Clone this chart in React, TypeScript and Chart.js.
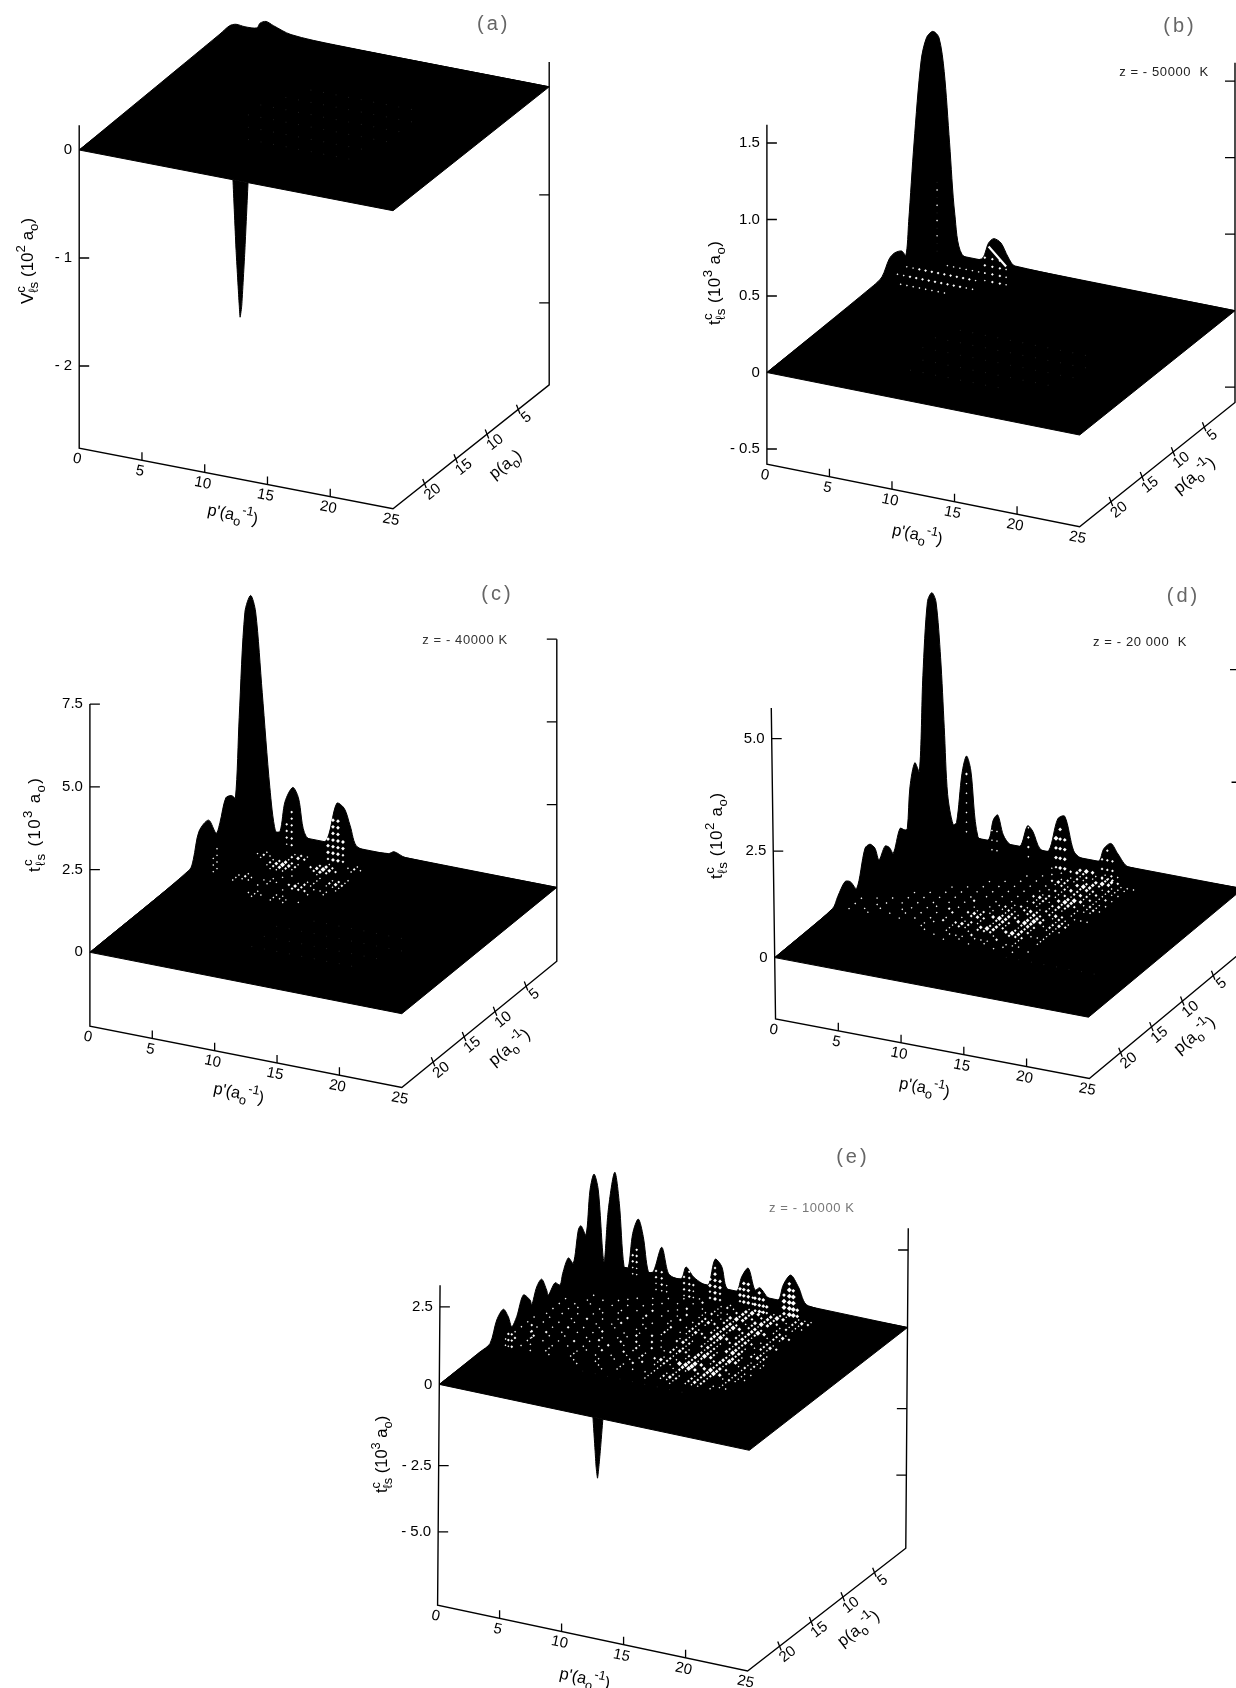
import { useEffect, useRef } from 'react';
import { Chart, registerables } from 'chart.js';

Chart.register(...registerables);

// ---- Values ----
const primeTicks = [0, 5, 10, 15, 20, 25];
const pTicks = [5, 10, 15, 20];

// Back contour: s < 0 runs along the p' = 0 edge (p = -s), s > 0 along the p = 0 edge (p' = s)
const aRidgeS = [-25, -2.46, -0.93, 0.05, 0.76, 1.72, 1.96, 2.44, 3.04, 4.43, 8, 25];
const aRidgeZ = [0, 0.04, 0.046, 0.018, 0.011, 0.022, 0.071, 0.098, 0.072, 0.021, 0.004, 0];
const bRidgeS = [-25, -7.88, -6.48, -5.32, -4.47, -3.33, -2.64, -2.19, -1.33, -0.19, 0.34, 0.84, 1.33, 1.75, 2.18, 2.6, 3.17, 4.73, 5.3, 5.72, 6.29, 6.86, 7.42, 25];
const bRidgeZ = [0, 0.011, 0.024, 0.103, 0.114, 0.09, 0.039, 0.246, 0.731, 1.232, 1.382, 1.431, 1.399, 1.184, 0.724, 0.264, 0.012, 0.007, 0.121, 0.156, 0.137, 0.054, 0.005, 0];
const cRidgeS = [-25, -8.95, -8.32, -7.4, -5.85, -4.63, -4.02, -3.08, -2.16, -1.53, -0.92, 0, 0.46, 0.86, 1.39, 2, 2.45, 2.82, 3.22, 3.84, 4.29, 4.91, 6.44, 7.36, 7.97, 8.44, 9.05, 11.5, 11.96, 12.88, 25];
const cRidgeZ = [0, 0.04, 0.26, 0.97, 1.07, 0.49, 0.72, 1.32, 1.25, 1.08, 3.42, 6.46, 7.0, 6.53, 4.13, 1.31, 0.02, 0.05, 0.98, 1.45, 1.17, 0.05, 0, 1.23, 1.12, 0.63, 0.03, 0.02, 0.11, 0, 0];
const dRidgeS = [-25, -15.65, -14.79, -13.62, -12.78, -11.73, -10.39, -9.58, -8.77, -8.12, -7.15, -6.46, -5.81, -4.72, -3.92, -3.54, -3.11, -2.33, -1.59, -1.02, -0.28, 0.21, 0.54, 0.91, 1.2, 1.47, 1.9, 2.18, 2.61, 2.97, 3.31, 3.88, 4.71, 5.11, 5.46, 5.9, 6.44, 7.24, 7.83, 8.25, 8.83, 9.53, 10.24, 10.8, 11.51, 12.07, 13.48, 13.91, 14.48, 15.04, 15.89, 25];
const dRidgeZ = [0, 0.02, 0.2, 0.4, 0.3, 0.02, 0.78, 0.78, 0.59, 0.25, 0.45, 0.34, 0.13, 0.57, 0.44, 0.43, 1.33, 1.79, 1.5, 3.63, 5.23, 5.41, 5.22, 3.96, 2.38, 0.87, 0.21, 0.27, 1.41, 1.83, 1.53, 0.04, 0.01, 0.49, 0.62, 0.19, 0, 0, 0.5, 0.4, 0.03, 0.03, 0.79, 0.88, 0.13, 0, 0, 0.31, 0.46, 0.25, 0, 0];
const eRidgeS = [-25, -18.56, -16.98, -15.92, -14.88, -14.09, -13.55, -12.76, -11.72, -10.66, -10.39, -9.6, -8.82, -8.03, -7.77, -6.71, -5.92, -5.5, -4.61, -3.82, -3.03, -2.61, -1.82, -1.18, -0.55, 0.06, 0.52, 0.87, 1.39, 1.76, 2.14, 2.48, 2.84, 3.29, 3.69, 4.1, 4.5, 5.18, 5.71, 6.25, 6.79, 7.14, 7.73, 8.4, 8.94, 9.48, 10.02, 10.42, 11.23, 11.63, 12.16, 12.7, 13.1, 13.77, 14.58, 14.98, 15.58, 16.19, 16.99, 25];
const eRidgeZ = [0, 0.03, 0.05, 0.64, 0.82, 0.45, 0.05, 0.25, 0.78, 0.45, 0.25, 0.71, 0.83, 0.35, 0.15, 0.38, 0.18, 0.49, 0.85, 0.55, 1.5, 1.57, 1.15, 2.5, 2.91, 2.32, 0.04, 1.74, 3.0, 2.03, 0.02, 0.02, 1.15, 1.65, 1.12, 0.02, 0.06, 0.9, 0.11, 0, 0.04, 0.43, 0.17, 0.02, 0, 0.88, 0.69, 0.03, 0, 0.5, 0.82, 0.16, 0.27, 0, 0, 0.52, 0.89, 0.57, 0.02, 0];

// Downward spikes, seen against the front edge
const aSpikePrime = [12.25, 12.5, 12.75, 12.82, 12.95, 13.2, 13.45];
const aSpikeZ = [0, -0.65, -1.15, -1.26, -1.15, -0.63, 0];
const eSpikePrime = [12.39, 12.56, 12.65, 12.76, 12.86, 12.99, 13.19];
const eSpikeZ = [0, -1.05, -1.6, -1.94, -1.6, -1.02, 0];

// White gap on the second ridge of panel b
const bGapS = [5.3, 6.7];
const bGapZ = [0.098, -0.01];

// Mesh openings on the surface: [p, first p', one character per half unit of p']
const aOpenings: [number, number, string][] = [
  [18, 10, 'f.f.f.f.f.f.f.f.f'], [16, 9, 'f.f.f.f.f.f.f.f.f.f'], [14, 8, 'f.f.f.f.f.f.f.f.f.f.f.f'],
  [12, 8, 'f.f.f.f.f.f.f.f.f.f.f.f'], [10, 9, 'f.f.f.f.f.f.f.f.f.f.f'], [8, 10, 'f.f.f.f.f.f.f.f.f'],
];
const bOpenings: [number, number, string][] = [
  [6.5, 0.5, '..11111111..'], [5, 0.5, '1122222222211'], [3.5, 0.5, '112222222221'], [2, 3, '1111111'],
  [20, 9, 'f.f.f.f.f.f.f.f'], [18, 9, 'f.f.f.f.f.f.f.f.f.f.f'], [16, 8, 'f.f.f.f.f.f.f.f.f.f.f.f.f'],
  [14, 8, 'f.f.f.f.f.f.f.f.f.f.f.f.f'], [12, 9, 'f.f.f.f.f.f.f.f.f.f.f'],
];
const cOpenings: [number, number, string][] = [
  [11, 2, '........1..1.1......'], [10.5, 2, '.......111.111.1....'], [10, 2, '........1..11.......'],
  [9, 2, '...1...1...1...1....'], [8.5, 2, '...111..1...222..1..'], [8, 2, '...121.111.232.111..'],
  [7.5, 2, '....1...1...121...1.'], [7, 2, '.........1...11.111.'], [6.5, 2, '..........1...1.232.'],
  [6, 2, '......111.....1.121.'], [5.5, 2, '.....12321...1....1.'], [5, 2, '.....23432..232.....'],
  [4.5, 2, '...1.12321.23432....'], [4, 2, '..121..1....232..1..'], [3.5, 2, '...1...232...1..121.'],
  [3, 2, '.......121.......1..'],
  [19, 10, 'f.f.f.f.f.f.f.f.f'], [17, 10, 'f.f.f.f.f.f.f.f.f.f'], [15, 10, 'f.f.f.f.f.f.f.f.f.f.f'], [13, 12, 'f.f.f.f.f.f.f.f'],
];
const dOpenings: [number, number, string][] = [
  [18, 15, 'f.f.f.f.f.f.f.f'], [17, 0.5, '..................1...1...1..1........'],
  [16.5, 0.5, '................1...1...1..1...1......'], [16, 0.5, '..............1...111.111..111........'],
  [15.5, 0.5, '.............1...1...2...2..1.........'], [15, 0.5, '.1..1....1...1...1..1...1...1..1.......'],
  [14.5, 0.5, '...1...1...1..1..121.222..222..1......'], [14, 0.5, '.1...1...1...1.2.232.343.343.111......'],
  [13.5, 0.5, '....1...1..1...1..121.232.232..1......'], [13, 0.5, '.1...1...1...1...1..1.121.121..1......'],
  [12.5, 0.5, '...1...1...1...2..232.232.232.111.....'], [12, 0.5, '.....1...1..1.2..232.343.343.121......'],
  [11.5, 0.5, '.......1...1...1..121.232.343.232.....'], [11, 0.5, '.........1...1...1..1.121.232.121.....'],
  [10.5, 0.5, '.......1...1...1...1.121.232.121......'], [10, 0.5, '.........1...1..2...121.232.232.111...'],
  [9.5, 0.5, '...........1...1...1..121.121..1......'], [9, 0.5, '.............1...1...1...1.121.1.......'],
  [8.5, 0.5, '...........1...1...1...121.232.111....'], [8, 0.5, '.............1...1...1..121.232.121...'],
  [7.5, 0.5, '...............1...1...232.343.121....'], [7, 0.5, '.................1...1..121.343.111...'],
  [6.5, 0.5, '...............1...1...1..121.121.....'], [6, 0.5, '.................1...1..121.232.121...'],
  [5.5, 0.5, '...................1...1..232.121.....'], [5, 0.5, '.....................1..121.232.111...'],
  [4.5, 0.5, '...................1...232.343.121....'], [4, 0.5, '.....................1..121.232.111...'],
  [3.5, 0.5, '......................1..121.343.111..'], [3, 0.5, '.......................1..121.232.....'],
  [2.5, 0.5, '.....................1..232.121.......'], [2, 0.5, '.........................343.121......'],
];
const eOpenings: [number, number, string][] = [
  [18, 8, 'f.f.f.f.f.f.f.f.f'], [17, 0.5, '.............1...1......1...1.......'],
  [16.5, 0.5, '.1...1..1...1...1..1....1.111.111.1...'], [16, 0.5, '...1...1...1...1...1.1.11.232.232.111.'],
  [15.5, 0.5, '1...1..1...1...1...1....1.121.222..1..'], [15, 0.5, '.2.1...1...1..1..1..2...1..1..121..1..'],
  [14.5, 0.5, '...1.1...1..1...1..1.2.11.121.232.121.'], [14, 0.5, '1..2...1...1..2...1.1..121.343.343.111'],
  [13.5, 0.5, '..1..1...2...1...2..2.232.444.343.121.'], [13, 0.5, '1...2..1...1..2...1.1..121.343.232.111'],
  [12.5, 0.5, '..1...1...1.2...1.2.....1.121.121..1..'], [12, 0.5, '1...1...1...1..2..1.2.121.232.232.121.'],
  [11.5, 0.5, '..1...2...1...1..2...1.232.343.343.121'], [11, 0.5, '1...1...1..2...1...2...121.232.232.111'],
  [10.5, 0.5, '..1...1...1...1.2...1...1..121.121..1.'], [10, 0.5, '.1...1...1..1...1.2...232.232.343.232.'],
  [9.5, 0.5, '...1...2...1...1...1..121.121.232.121.'], [9, 0.5, '.1...1...1..2...1..2...1..121.121..1..'],
  [8.5, 0.5, '...1...1...1...1...1.111.232.232.121.'], [8, 0.5, '.1..1...1...2...1..2..232.343.232.232.'],
  [7.5, 0.5, '...1...1..1...1...1..121.232.232.121.'], [7, 0.5, '.1...1....1...2...1...1..121.121..1...'],
  [6.5, 0.5, '....1...1...1...1..2.121.232.232.121.'], [6, 0.5, '......1...1...2...1...232.343.343.232.'],
  [5.5, 0.5, '....1...1...1...1..2.121.232.232.121.'], [5, 0.5, '.........1...1...1...1..121.121..1....'],
  [4.5, 0.5, '..........1...1...2..121.343.343.121.'], [4, 0.5, '............1...1...1.111.232.232.111.'],
  [3.5, 0.5, '..............1...1...1..232.232.121.'], [3, 0.5, '................1..2..121.343.343.232.'],
  [2.5, 0.5, '..................1....1..121.121.111.'],
];

// Mesh openings on peak faces: [s, lowest z, one character per step of z, going up]
const bFaces: [number, number, string][] = [
  [5, -0.13, '1122'], [5.6, -0.13, '2222'], [6.2, -0.13, '2222'], [6.7, -0.13, '111'],
  [1.18, 0, 'ff1f1f1f1f'],
];
const cFaces: [number, number, string][] = [
  [6.66, -0.5, '2333'], [7.06, -0.5, '3333333'], [7.46, -0.5, '3333333'], [7.86, -0.5, '2233'],
  [3.35, -0.3, '1222'], [3.75, -0.3, '222222'], [-5.1, -0.6, '111'], [-4.5, -0.6, '1111'],
];
const dFaces: [number, number, string][] = [
  [10.1, -0.32, '2334'], [10.43, -0.32, '33333'], [10.8, -0.32, '3333'],
  [13.77, -0.38, '222'], [14.19, -0.38, '2222'], [14.6, -0.38, '222'],
  [7.9, -0.2, '1221'], [5.0, -0.2, '111'], [5.4, -0.2, '111'], [2.97, 0.1, '1111112'],
];
const eFaces: [number, number, string][] = [
  [15.04, -0.4, '3443'], [15.47, -0.4, '444443'], [15.79, -0.4, '44443'], [16.11, -0.4, '33'],
  [11.49, -0.3, '233'], [11.8, -0.3, '3333'], [12.16, -0.3, '3333'], [12.52, -0.3, '22'],
  [12.7, -0.5, '233'], [13.05, -0.5, '3333'], [13.37, -0.5, '333'], [13.65, -0.5, '23'],
  [9.07, -0.4, '2233'], [9.48, -0.4, '333332'], [9.88, -0.4, '2233'],
  [6.98, -0.5, '1222'], [7.4, -0.5, '22222'], [7.73, -0.5, '112'],
  [4.72, -0.5, '1122'], [5.18, -0.5, '1222'], [5.58, -0.5, '11'],
  [2.84, -0.15, '1122'], [3.16, -0.15, '11222'],
  [-14.09, -0.5, '122'], [-13.55, -0.6, '222'], [-10.39, -0.8, '122'],
];

// Height axes
const aZTicks = [-1, -2];
const aZLabels = ['- 1', '- 2'];
const bZTicks = [1.5, 1, 0.5, -0.5];
const bZLabels = ['1.5', '1.0', '0.5', '- 0.5'];
const cZTicks = [7.5, 5, 2.5];
const cZLabels = ['7.5', '5.0', '2.5'];
const dZTicks = [5, 2.43];
const dZLabels = ['5.0', '2.5'];
const eZTicks = [2.5, -2.62, -4.76];
const eZLabels = ['2.5', '- 2.5', '- 5.0'];

// Text with superscripts and subscripts: [text, kind]
type Run = [string, string];
const aZTitle: Run[] = [['V', ''], ['c', '^!'], ['ℓs', '_'], [' (10', ''], ['2', '^'], [' a', ''], ['o', '_'], [')', '']];
const bZTitle: Run[] = [['t', ''], ['c', '^!'], ['ℓs', '_'], [' (10', ''], ['3', '^'], [' a', ''], ['o', '_'], [')', '']];
const dZTitle: Run[] = [['t', ''], ['c', '^!'], ['ℓs', '_'], [' (10', ''], ['2', '^'], [' a', ''], ['o', '_'], [')', '']];
const primeTitle: Run[] = [["p'(a", ''], ['o', '_'], ['-1', '^'], [')', '']];
const pInverseTitle: Run[] = [['p(a', ''], ['o', '_'], ['-1', '^'], [')', '']];
const pPlainTitle: Run[] = [['p(a', ''], ['o', '_'], [')', '']];

// ---- Layout of each panel (page pixels) ----
type XY = [number, number];
interface PanelDef {
  box: [number, number, number, number];
  left: XY; front: XY; right: XY; // the corners of the z = 0 sheet
  k: number; zMin: number; zTop: number; lean: number;
  ridgeS: number[]; ridgeZ: number[];
  spikePrime?: number[]; spikeZ?: number[];
  gapS?: number[]; gapZ?: number[];
  openings: [number, number, string][];
  faces: [number, number, string][]; faceStep: number;
  zTicks: number[]; zLabels: string[];
  zTitle: Run[]; zTitleAt: XY; zTitleSize: number; zTitleGap: number;
  primeTitleAt: XY; pTitle: Run[]; pTitleAt: XY;
  name: string; nameAt: XY;
  temp?: string; tempAt?: XY; tempColor?: string;
}

const PANELS: PanelDef[] = [
  {
    box: [0, 0, 600, 560], left: [79.2, 150], front: [393, 210.7], right: [549.2, 86.8],
    k: 108, zMin: -2.76, zTop: 0.23, lean: 0, ridgeS: aRidgeS, ridgeZ: aRidgeZ,
    spikePrime: aSpikePrime, spikeZ: aSpikeZ, openings: aOpenings, faces: [], faceStep: 0.1,
    zTicks: aZTicks, zLabels: aZLabels, zTitle: aZTitle, zTitleAt: [33, 304], zTitleSize: 17, zTitleGap: 0,
    primeTitleAt: [233, 514], pTitle: pPlainTitle, pTitleAt: [505, 464],
    name: '(a)', nameAt: [493.7, 24.3],
  },
  {
    box: [690, 0, 546, 560], left: [766.9, 372.5], front: [1079.6, 435], right: [1235, 310.7],
    k: 153, zMin: -0.6, zTop: 1.62, lean: 0, ridgeS: bRidgeS, ridgeZ: bRidgeZ,
    gapS: bGapS, gapZ: bGapZ, openings: bOpenings, faces: bFaces, faceStep: 0.05,
    zTicks: bZTicks, zLabels: bZLabels, zTitle: bZTitle, zTitleAt: [720, 325], zTitleSize: 17, zTitleGap: 0.4,
    primeTitleAt: [917.6, 534], pTitle: pInverseTitle, pTitleAt: [1194, 475],
    name: '(b)', nameAt: [1180, 26.8], temp: 'z = - 50000  K', tempAt: [1164, 72.5], tempColor: '#222',
  },
  {
    box: [0, 565, 600, 565], left: [89.9, 952.3], front: [401.8, 1013.7], right: [556.8, 887.4],
    k: 33.1, zMin: -2.23, zTop: 7.5, lean: 0, ridgeS: cRidgeS, ridgeZ: cRidgeZ,
    openings: cOpenings, faces: cFaces, faceStep: 0.2,
    zTicks: cZTicks, zLabels: cZLabels, zTitle: bZTitle, zTitleAt: [40, 872], zTitleSize: 17, zTitleGap: 1.3,
    primeTitleAt: [239, 1092.6], pTitle: pInverseTitle, pTitleAt: [509, 1047],
    name: '(c)', nameAt: [497.5, 594.6], temp: 'z = - 40000 K', tempAt: [465, 640], tempColor: '#333',
  },
  {
    box: [690, 565, 546, 565], left: [774.7, 957.6], front: [1088.5, 1017.2], right: [1243, 888.7],
    k: 43.8, zMin: -1.4, zTop: 5.7, lean: -0.6, ridgeS: dRidgeS, ridgeZ: dRidgeZ,
    openings: dOpenings, faces: dFaces, faceStep: 0.22,
    zTicks: dZTicks, zLabels: dZLabels, zTitle: dZTitle, zTitleAt: [722, 879], zTitleSize: 17, zTitleGap: 0.6,
    primeTitleAt: [924.7, 1087], pTitle: pInverseTitle, pTitleAt: [1194, 1034.7],
    name: '(d)', nameAt: [1183.5, 596.3], temp: 'z = - 20 000  K', tempAt: [1140, 642], tempColor: '#222',
  },
  {
    box: [360, 1135, 560, 553], left: [439.3, 1384.4], front: [749.3, 1450.3], right: [907.5, 1327.5],
    k: 31, zMin: -7.12, zTop: 3.2, lean: 0.24, ridgeS: eRidgeS, ridgeZ: eRidgeZ,
    spikePrime: eSpikePrime, spikeZ: eSpikeZ, openings: eOpenings, faces: eFaces, faceStep: 0.2,
    zTicks: eZTicks, zLabels: eZLabels, zTitle: bZTitle, zTitleAt: [387, 1493], zTitleSize: 16.5, zTitleGap: 0,
    primeTitleAt: [585, 1678], pTitle: pInverseTitle, pTitleAt: [858, 1628],
    name: '(e)', nameAt: [852.9, 1157.8], temp: 'z = - 10000 K', tempAt: [811.8, 1208.3], tempColor: '#777',
  },
];

const FONT = '"Liberation Sans", "DejaVu Sans", sans-serif';
const OPENING_SIZE: Record<string, number> = { f: 0.6, '1': 0.95, '2': 1.4, '3': 1.9, '4': 2.5 };

function drawRuns(ctx: CanvasRenderingContext2D, runs: Run[], size: number, x: number, y: number, angle: number, center: boolean, gap = 0) {
  const fontOf = (kind: string) => `${kind ? size * 0.78 : size}px ${FONT}`;
  ctx.save();
  (ctx as any).letterSpacing = `${gap}px`;
  let width = 0;
  for (const [text, kind] of runs) {
    if (kind === '^!') continue;
    ctx.font = fontOf(kind);
    width += ctx.measureText(text).width;
  }
  ctx.translate(x, y);
  ctx.rotate(angle);
  ctx.textAlign = 'left';
  ctx.textBaseline = 'alphabetic';
  ctx.fillStyle = '#000';
  let pen = center ? -width / 2 : 0;
  const base = center ? size * 0.35 : 0;
  for (const [text, kind] of runs) {
    ctx.font = fontOf(kind);
    const lift = kind[0] === '^' ? -size * 0.45 : kind === '_' ? size * 0.3 : 0;
    ctx.fillText(text, pen, base + lift);
    if (kind !== '^!') pen += ctx.measureText(text).width;
  }
  ctx.restore();
}

function buildConfig(d: PanelDef): any {
  const [bx, by, bw, bh] = d.box;
  const u: XY = [(d.front[0] - d.left[0]) / 25, (d.front[1] - d.left[1]) / 25];
  const v: XY = [(d.right[0] - d.front[0]) / 25, (d.right[1] - d.front[1]) / 25];
  const at = (prime: number, p: number, z: number, lean = 0) => ({
    x: d.left[0] + prime * u[0] + (25 - p) * v[0] + lean * z - bx,
    y: d.left[1] + prime * u[1] + (25 - p) * v[1] - z * d.k - by,
  });
  const onEdge = (s: number, z: number) => (s < 0 ? at(0, -s, z) : at(s, 0, z));
  const shift = (pt: { x: number; y: number }, dx: number, dy: number) => ({ x: pt.x + dx, y: pt.y + dy });
  const gap = { x: NaN, y: NaN };

  const axisLine = [
    at(0, 25, d.zTop, d.lean), at(0, 25, d.zMin, d.lean), at(25, 25, d.zMin, d.lean),
    at(25, 0, d.zMin, d.lean), at(25, 0, d.zTop, d.lean),
  ];
  const tickLines: { x: number; y: number }[] = [];
  for (const z of d.zTicks) {
    const l = at(0, 25, z, d.lean);
    const r = at(25, 0, z, d.lean);
    tickLines.push(l, shift(l, 10, 0), gap, r, shift(r, -10, 0), gap);
  }
  for (const t of primeTicks.slice(1, -1)) {
    const a = at(t, 25, d.zMin, d.lean);
    tickLines.push(a, shift(a, 0, -8), gap);
  }
  for (const t of pTicks) {
    const a = at(25, t, d.zMin, d.lean);
    tickLines.push(shift(a, -1.5, -5), shift(a, 2, 4), gap);
  }

  const openingPts: { x: number; y: number }[] = [];
  const openingR: number[] = [];
  const openingC: string[] = [];
  const pushOpening = (pt: { x: number; y: number }, ch: string) => {
    if (!(ch in OPENING_SIZE)) return;
    openingPts.push(pt);
    openingR.push(OPENING_SIZE[ch]);
    openingC.push(ch === 'f' ? 'rgba(255,255,255,0.16)' : '#fff');
  };
  for (const [p, first, cells] of d.openings) {
    [...cells].forEach((ch, i) => pushOpening(at(first + i / 2, p, 0), ch));
  }
  for (const [s, z0, cells] of d.faces) {
    [...cells].forEach((ch, i) => pushOpening(onEdge(s, z0 + i * d.faceStep), ch));
  }

  const solid = { showLine: true, pointRadius: 0, borderColor: '#000', backgroundColor: '#000', clip: false };
  const datasets: any[] = [
    {
      label: 'mesh openings', data: openingPts, showLine: false, pointStyle: 'rectRot',
      pointRadius: openingR, pointBackgroundColor: openingC, pointBorderWidth: 0, clip: false, order: 0,
    },
  ];
  if (d.gapS && d.gapZ) {
    datasets.push({
      ...solid, label: 'gap', data: d.gapS.map((s, i) => onEdge(s, d.gapZ![i])),
      borderColor: '#fff', borderWidth: 2.2, order: 0,
    });
  }
  datasets.push({
    ...solid, label: 'ridge', data: d.ridgeS.map((s, i) => onEdge(s, d.ridgeZ[i])),
    borderWidth: 1, fill: 'shape', tension: 0.3, order: 1,
  });
  if (d.spikePrime && d.spikeZ) {
    datasets.push({
      ...solid, label: 'spike', data: d.spikePrime.map((t, i) => at(t, 25, d.spikeZ![i])),
      borderWidth: 1, fill: 'shape', tension: 0.15, order: 2,
    });
  }
  datasets.push({
    ...solid, label: 'surface', data: [at(0, 25, 0), at(25, 25, 0), at(25, 0, 0), at(0, 0, 0), at(0, 25, 0)],
    borderWidth: 1, fill: 'shape', order: 3,
  });
  datasets.push({ ...solid, label: 'axes', data: axisLine, borderWidth: 1.4, order: 4 });
  datasets.push({ ...solid, label: 'ticks', data: tickLines, borderWidth: 1.3, order: 4 });

  const primeAngle = Math.atan2(u[1], u[0]);
  const pAngle = Math.atan2(v[1], v[0]);

  const labels = {
    id: 'panelText',
    afterDatasetsDraw(chart: any) {
      const ctx: CanvasRenderingContext2D = chart.ctx;
      const tickFont = `15px ${FONT}`;
      const text = (s: string, x: number, y: number, angle: number, align: CanvasTextAlign) => {
        ctx.save();
        ctx.translate(x, y);
        ctx.rotate(angle);
        ctx.font = tickFont;
        ctx.fillStyle = '#000';
        ctx.textAlign = align;
        ctx.textBaseline = 'middle';
        ctx.fillText(s, 0, 0);
        ctx.restore();
      };
      const zero = at(0, 25, 0, d.lean);
      text('0', zero.x - 7, zero.y, 0, 'right');
      d.zTicks.forEach((z, i) => {
        const a = at(0, 25, z, d.lean);
        text(d.zLabels[i], a.x - 7, a.y, 0, 'right');
      });
      for (const t of primeTicks) {
        const a = at(t, 25, d.zMin, d.lean);
        text(String(t), a.x - 2, a.y + 11, primeAngle, 'center');
      }
      for (const t of pTicks) {
        const a = at(25, t, d.zMin, d.lean);
        text(String(t), a.x + 8.5, a.y + 8, pAngle, 'center');
      }
      drawRuns(ctx, d.zTitle, d.zTitleSize, d.zTitleAt[0] - bx, d.zTitleAt[1] - by, -Math.PI / 2, false, d.zTitleGap);
      drawRuns(ctx, primeTitle, 16.5, d.primeTitleAt[0] - bx, d.primeTitleAt[1] - by, primeAngle, true);
      drawRuns(ctx, d.pTitle, 16.5, d.pTitleAt[0] - bx, d.pTitleAt[1] - by, pAngle, true);

      ctx.save();
      ctx.font = `20px ${FONT}`;
      ctx.fillStyle = '#666';
      ctx.textAlign = 'center';
      ctx.textBaseline = 'middle';
      (ctx as any).letterSpacing = '3px';
      ctx.fillText(d.name, d.nameAt[0] - bx, d.nameAt[1] - by);
      if (d.temp && d.tempAt) {
        ctx.font = `13px ${FONT}`;
        ctx.fillStyle = d.tempColor || '#222';
        (ctx as any).letterSpacing = '0.6px';
        ctx.fillText(d.temp, d.tempAt[0] - bx, d.tempAt[1] - by);
      }
      ctx.restore();
    },
  };

  return {
    type: 'scatter',
    data: { datasets },
    plugins: [labels],
    options: {
      animation: false,
      responsive: false,
      devicePixelRatio: 1,
      layout: { padding: 0, autoPadding: false },
      events: [],
      plugins: { legend: { display: false }, tooltip: { enabled: false }, title: { display: false } },
      scales: {
        x: { type: 'linear', min: 0, max: bw, display: false },
        y: { type: 'linear', min: 0, max: bh, reverse: true, display: false },
      },
    },
  };
}

function Panel({ def }: { def: PanelDef }) {
  const ref = useRef<HTMLCanvasElement>(null);
  useEffect(() => {
    const chart = new Chart(ref.current!, buildConfig(def));
    return () => chart.destroy();
  }, [def]);
  const [x, y, w, h] = def.box;
  return (
    <canvas
      ref={ref}
      width={w}
      height={h}
      style={{ position: 'absolute', left: x, top: y, width: w, height: h, display: 'block' }}
    />
  );
}

export default function App() {
  return (
    <div style={{ position: 'absolute', left: 0, top: 0, width: 1236, height: 1688, background: '#fff', overflow: 'hidden' }}>
      {PANELS.map((def) => (
        <Panel key={def.name} def={def} />
      ))}
    </div>
  );
}
